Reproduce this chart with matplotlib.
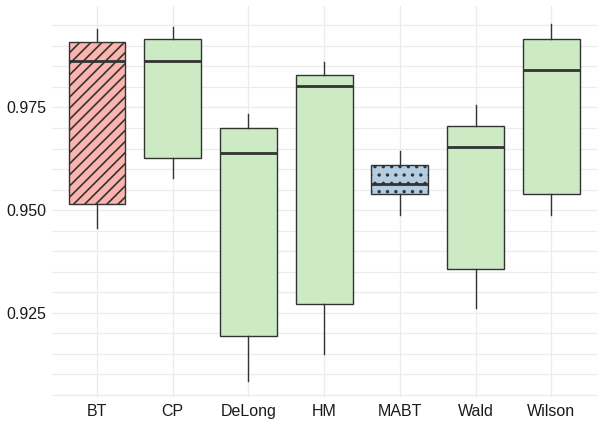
import matplotlib

matplotlib.use("Agg")

import numpy as np  # noqa: E402
from matplotlib import pyplot as plt  # noqa: E402

METHODS = ["BT", "CP", "DeLong", "HM", "MABT", "Wald", "Wilson"]
WHISKER_LOW = [0.9456, 0.9579, 0.9083, 0.9149, 0.9487, 0.9261, 0.9488]
Q1 = [0.9514, 0.9627, 0.9194, 0.9272, 0.9540, 0.9356, 0.9539]
MEDIAN = [0.9864, 0.9864, 0.9638, 0.9803, 0.9563, 0.9654, 0.9841]
Q3 = [0.9910, 0.9917, 0.9700, 0.9829, 0.9609, 0.9705, 0.9916]
WHISKER_HIGH = [0.9941, 0.9946, 0.9733, 0.9861, 0.9644, 0.9756, 0.9953]
GROUP = ["bt", "other", "other", "other", "mabt", "other", "other"]

FILLS = {"bt": "#FBB4AE", "mabt": "#B3CDE3", "other": "#CCEBC5"}
HATCHES = {"bt": "///", "mabt": "..", "other": None}
EDGE = "#333333"
GRID = "#EBEBEB"
TEXT = "#1A1A1A"

plt.rcParams["font.family"] = ["Liberation Sans", "DejaVu Sans"]
plt.rcParams["hatch.color"] = EDGE
plt.rcParams["hatch.linewidth"] = 1.2

figure = plt.figure(figsize=(6.03, 4.26), dpi=100)
axis = figure.add_axes([0.0857, 0.068, 0.9038, 0.918])

stats = [
    {"whislo": lo, "q1": q1, "med": med, "q3": q3, "whishi": hi, "fliers": []}
    for lo, q1, med, q3, hi in zip(WHISKER_LOW, Q1, MEDIAN, Q3, WHISKER_HIGH)
]
positions = np.arange(len(METHODS))
parts = axis.bxp(
    stats,
    positions=positions,
    widths=0.75,
    patch_artist=True,
    showcaps=False,
    showfliers=False,
    boxprops={"edgecolor": EDGE, "linewidth": 1.0},
    medianprops={"color": EDGE, "linewidth": 2.0},
    whiskerprops={"color": EDGE, "linewidth": 1.0},
    zorder=3,
)
for box, group in zip(parts["boxes"], GROUP):
    box.set_facecolor(FILLS[group])
    if HATCHES[group]:
        box.set_hatch(HATCHES[group])

# grid every 0.005, labels every 0.025
for value in np.arange(0.905, 0.9951, 0.005):
    axis.axhline(value, color=GRID, linewidth=0.9, zorder=0)
for position in positions:
    axis.axvline(position, color=GRID, linewidth=0.9, zorder=0)

axis.set_xlim(-0.6, len(METHODS) - 0.4)
axis.set_ylim(0.9045, 0.9997)
axis.set_yticks([0.925, 0.950, 0.975], ["0.925", "0.950", "0.975"])
axis.set_xticks(positions, METHODS)
axis.tick_params(length=0, labelsize=11.5, labelcolor=TEXT)
axis.tick_params(axis="x", pad=5)
axis.tick_params(axis="y", pad=4)
for spine in axis.spines.values():
    spine.set_visible(False)

figure.savefig("out.png", dpi=100, facecolor="white")
